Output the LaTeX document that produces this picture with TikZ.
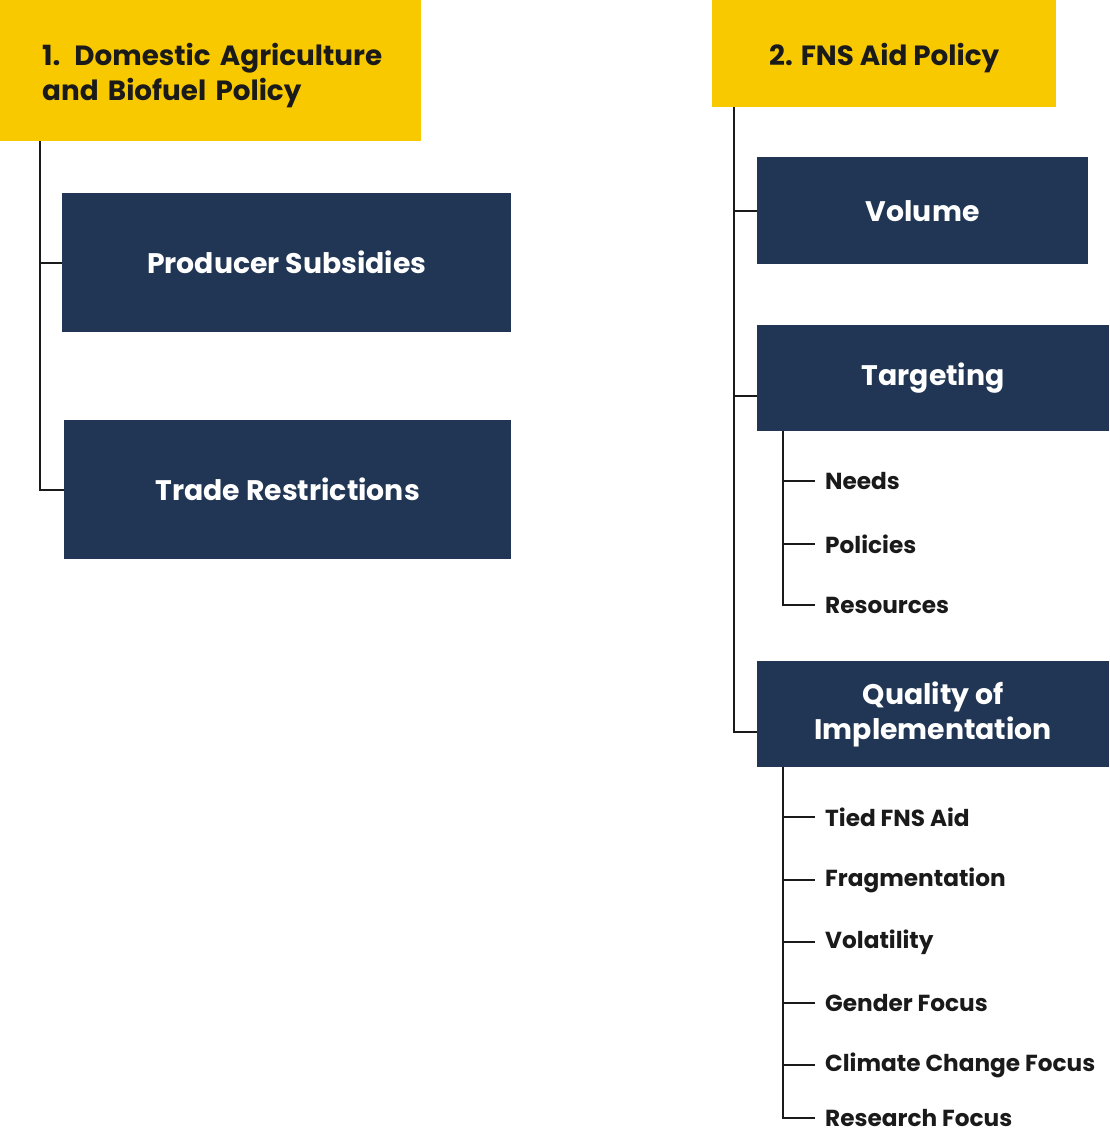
\documentclass[tikz,border=0pt]{standalone}
\usepackage{fontspec}
\setmainfont{Poppins}
\usepackage{xcolor}
\usepackage{tikz}
\usetikzlibrary{positioning, calc}

\definecolor{fnsyellow}{HTML}{F9C900}
\definecolor{fnsnavy}{HTML}{213654}
\definecolor{fnsink}{HTML}{1A1A1A}

\begin{document}
\begin{tikzpicture}[
    x=1pt, y=-1pt,
    head/.style={rectangle, fill=fnsyellow, text=fnsink, inner sep=0pt, anchor=north west, font=\fontsize{27.8}{35}\selectfont\bfseries},
    topic/.style={rectangle, fill=fnsnavy, text=white, inner sep=0pt, anchor=north west, align=center, font=\fontsize{28.3}{35}\selectfont\bfseries},
    item/.style={inner sep=0pt, anchor=west, text=fnsink, font=\fontsize{23.2}{26}\selectfont\bfseries},
    link/.style={draw=fnsink, line width=2pt}
]
\useasboundingbox (0,0) rectangle (1109,1130);

% Left column: Domestic Agriculture and Biofuel Policy
\node[head, minimum width=421pt, minimum height=141pt, text width=337pt, align=left, text height=30pt, text depth=41pt] (dom_head) at (0,0) {\mbox{1. Domestic Agriculture}\\\mbox{and Biofuel Policy}};
\node[topic, minimum width=449pt, minimum height=139pt] (prod_sub) at (62,193) {Producer Subsidies};
\node[topic, minimum width=447pt, minimum height=139pt] (trade_res) at (64,420) {Trade Restrictions};

% Right column: FNS Aid Policy
\node[head, minimum width=344pt, minimum height=107pt, align=center, text height=30pt, text depth=7pt] (fns_head) at (712,0) {2. FNS Aid Policy};
\node[topic, minimum width=331pt, minimum height=107pt] (volume) at (757,157) {Volume};
\node[topic, minimum width=352pt, minimum height=106pt] (targeting) at (757,325) {Targeting};
\node[topic, minimum width=352pt, minimum height=106pt] (quality) at (757,661) {Quality of\\Implementation};

% Targeting items
\node[item] (needs) at (825,481) {Needs};
\node[item] (policies) at (825,544) {Policies};
\node[item] (resources) at (825,605) {Resources};

% Quality items
\node[item] (tied) at (825,817) {Tied FNS Aid};
\node[item] (fragment) at (825,880) {Fragmentation};
\node[item] (volatility) at (825,942) {Volatility};
\node[item] (gender) at (825,1003) {Gender Focus};
\node[item] (climate) at (825,1065) {Climate Change Focus};
\node[item] (research) at (825,1118) {Research Focus};

% Connectors
\draw[link] ([xshift=40pt]dom_head.south west) |- (prod_sub.west);
\draw[link] ([xshift=40pt]dom_head.south west) |- (trade_res.west);

\draw[link] ([xshift=22pt]fns_head.south west) |- (volume.west);
\draw[link] ([xshift=22pt]fns_head.south west) |- ([yshift=-18pt]targeting.west);
\draw[link] ([xshift=22pt]fns_head.south west) |- ([yshift=-18pt]quality.west);

\foreach \sub in {needs, policies, resources}
    \draw[link] ([xshift=26pt]targeting.south west) |- ([xshift=-10pt]\sub.west);
\foreach \sub in {tied, fragment, volatility, gender, climate, research}
    \draw[link] ([xshift=26pt]quality.south west) |- ([xshift=-10pt]\sub.west);

\end{tikzpicture}
\end{document}
